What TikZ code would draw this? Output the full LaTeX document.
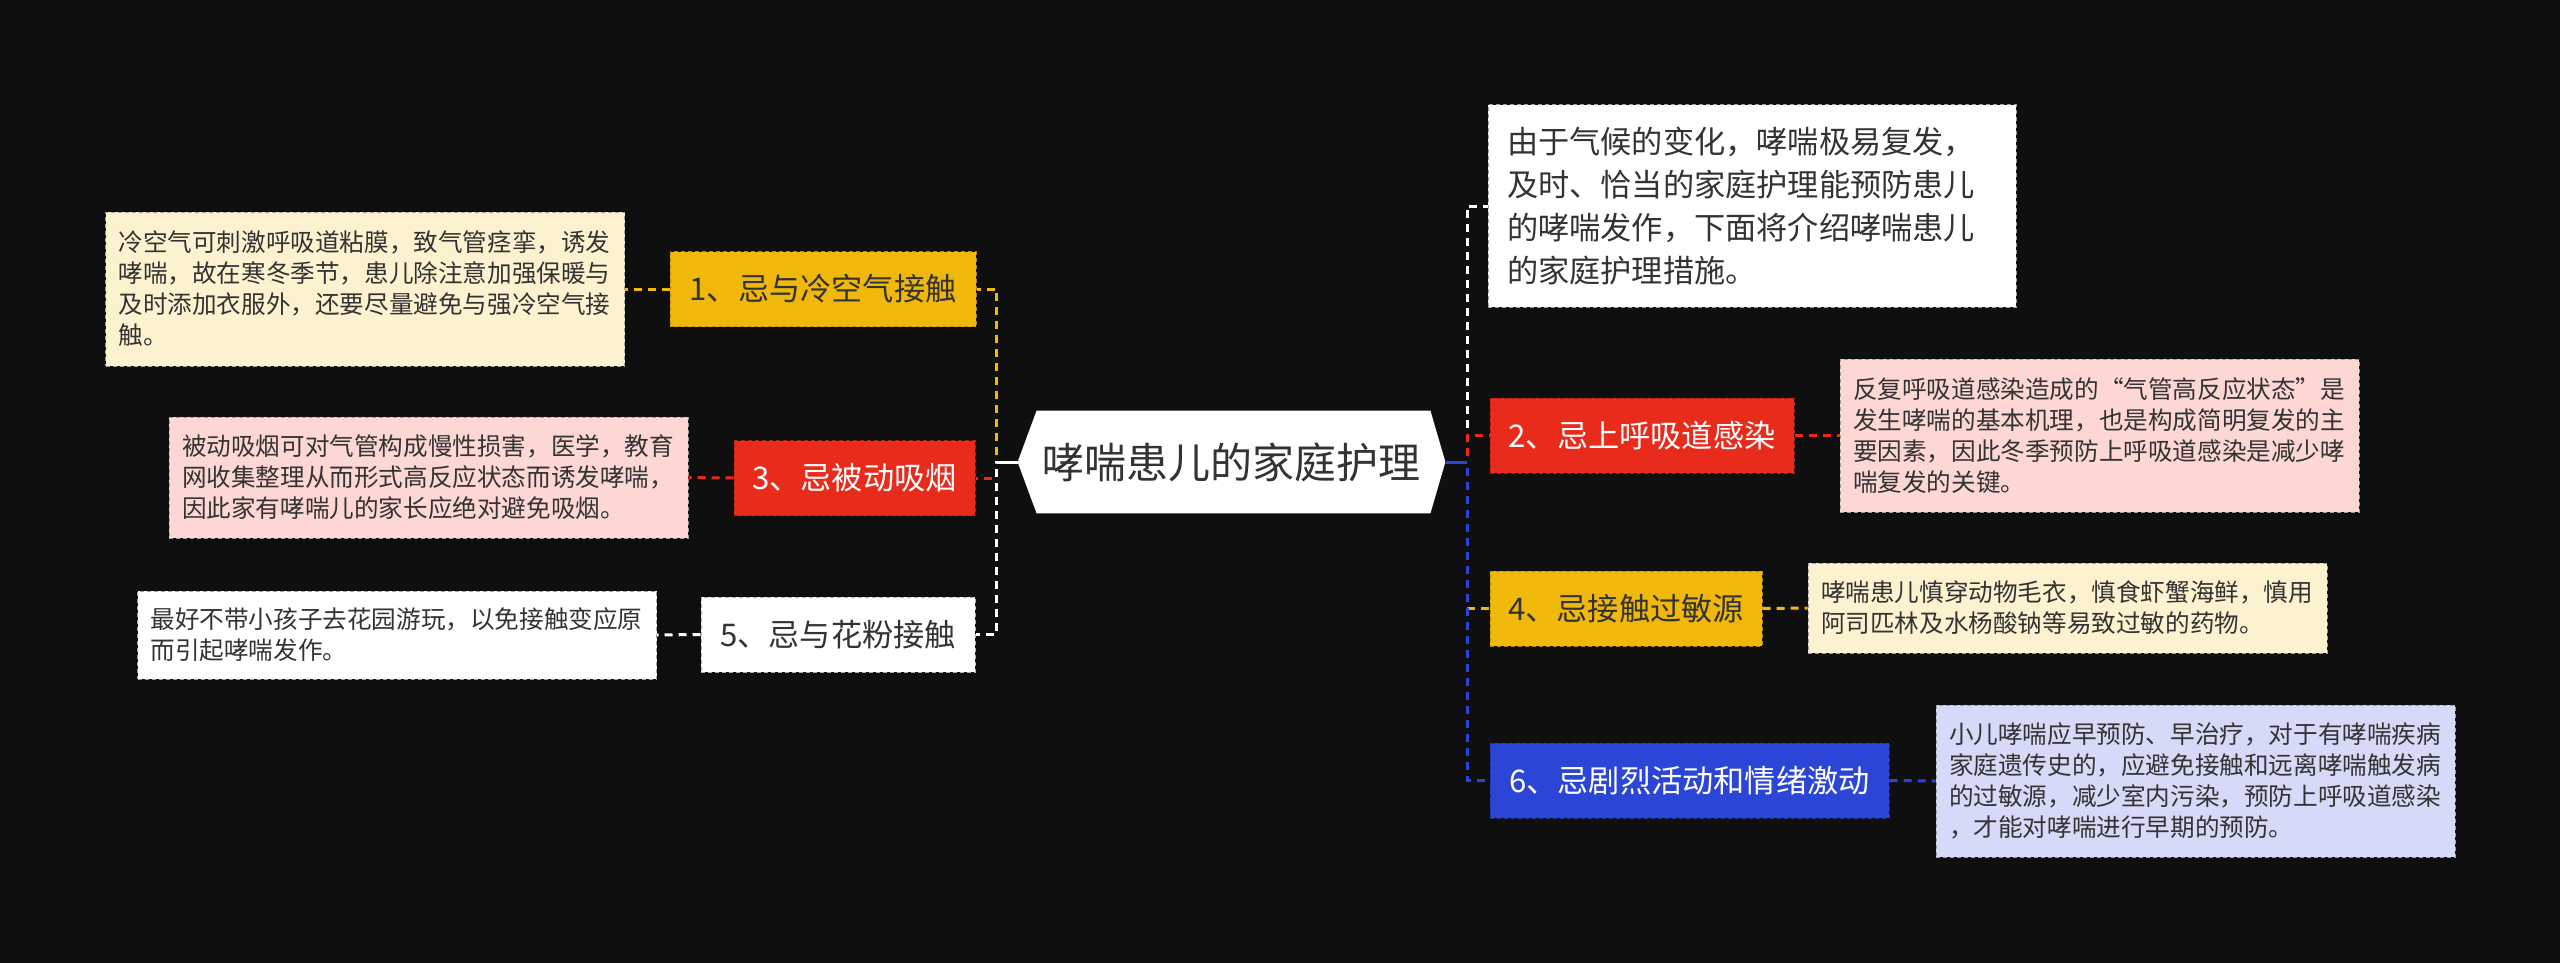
\documentclass[tikz,border=0pt]{standalone}
\usepackage{fontspec}
\setmainfont{Noto Sans CJK SC}
\pgfdeclarelayer{bg}
\pgfsetlayers{bg,main}
\definecolor{bgc}{HTML}{0F0F0F}
\definecolor{yel}{HTML}{F1B80C}
\definecolor{redc}{HTML}{E92B1C}
\definecolor{bluc}{HTML}{2B45D6}
\definecolor{cream}{HTML}{FDF2D0}
\definecolor{pinkc}{HTML}{FDD7D4}
\definecolor{lav}{HTML}{D6D9F7}
\definecolor{txt}{HTML}{333333}
\newcommand{\myopenq}{\makebox[1em][r]{“}}
\newcommand{\mycloseq}{\makebox[1em][l]{”}}
\tikzset{
 box/.style={inner sep=0pt, line width=0.5pt, dash pattern=on 2pt off 1.5pt},
 topic/.style={box, minimum height=37.5pt, font=\fontsize{15.6pt}{18pt}\selectfont},
 detail/.style={box, draw=gray!75, align=left, text=txt, font=\fontsize{12.3pt}{15.5pt}\selectfont, inner xsep=6.5pt, text width=246.5pt},
 link/.style={line width=1.5pt, dash pattern=on 4pt off 3pt},
 stub/.style={line width=1.5pt},
}
\begin{document}
\begin{tikzpicture}[x=0.5pt,y=-0.5pt]
\useasboundingbox (0,0) rectangle (2560,963);
\begin{pgfonlayer}{bg}
\fill[bgc] (0,0) rectangle (2560,963);
\end{pgfonlayer}
% central node
\node[inner sep=0pt, minimum width=213.5pt, minimum height=51pt, text=txt, font=\fontsize{21pt}{24pt}\selectfont] (c) at (1231.5,462) {哮喘患儿的家庭护理};
\begin{pgfonlayer}{bg}
\fill[white] (c.west) -- ([xshift=9.5pt]c.north west) -- ([xshift=-7.5pt]c.north east) -- (c.east) -- ([xshift=-7.5pt]c.south east) -- ([xshift=9.5pt]c.south west) -- cycle;
\end{pgfonlayer}
% left topics
\node[topic, fill=yel, draw=yel!75!black, text=txt, minimum width=153pt] (t1) at (823,289) {1、忌与冷空气接触};
\node[topic, fill=redc, draw=redc!75!black, text=white, minimum width=120.5pt] (t3) at (854.5,478) {3、忌被动吸烟};
\node[topic, fill=white, draw=gray!60, text=txt, minimum width=137pt] (t5) at (838,634.5) {5、忌与花粉接触};
% left details
\node[detail, fill=cream, minimum height=77pt] (d1) at (365,289) {冷空气可刺激呼吸道粘膜，致气管痉挛，诱发\\哮喘，故在寒冬季节，患儿除注意加强保暖与\\及时添加衣服外，还要尽量避免与强冷空气接\\触。};
\node[detail, fill=pinkc, minimum height=60.5pt] (d3) at (428.5,477.5) {被动吸烟可对气管构成慢性损害，医学，教育\\网收集整理从而形式高反应状态而诱发哮喘，\\因此家有哮喘儿的家长应绝对避免吸烟。};
\node[detail, fill=white, minimum height=44pt] (d5) at (397,635) {最好不带小孩子去花园游玩，以免接触变应原\\而引起哮喘发作。};
% right
\node[box, fill=white, draw=gray!75, text=txt, align=left, inner xsep=9.5pt, text width=245pt, minimum height=101pt, font=\fontsize{15.6pt}{21.5pt}\selectfont] (intro) at (1752,206) {由于气候的变化，哮喘极易复发，\\及时、恰当的家庭护理能预防患儿\\的哮喘发作，下面将介绍哮喘患儿\\的家庭护理措施。};
\node[topic, fill=redc, draw=redc!75!black, text=white, minimum width=152pt] (t2) at (1642,435.5) {2、忌上呼吸道感染};
\node[topic, fill=yel, draw=yel!75!black, text=txt, minimum width=136pt] (t4) at (1626,608.5) {4、忌接触过敏源};
\node[topic, fill=bluc, draw=bluc!75!black, text=white, minimum width=199.5pt] (t6) at (1689.5,780.5) {6、忌剧烈活动和情绪激动};
\node[detail, fill=pinkc, minimum height=76.5pt] (d2) at (2099.5,435.5) {反复呼吸道感染造成的\myopenq 气管高反应状态\mycloseq 是\\发生哮喘的基本机理，也是构成简明复发的主\\要因素，因此冬季预防上呼吸道感染是减少哮\\喘复发的关键。};
\node[detail, fill=cream, minimum height=45pt] (d4) at (2067.5,608) {哮喘患儿慎穿动物毛衣，慎食虾蟹海鲜，慎用\\阿司匹林及水杨酸钠等易致过敏的药物。};
\node[detail, fill=lav, minimum height=76pt] (d6) at (2195.5,781) {小儿哮喘应早预防、早治疗，对于有哮喘疾病\\家庭遗传史的，应避免接触和远离哮喘触发病\\的过敏源，减少室内污染，预防上呼吸道感染\\，才能对哮喘进行早期的预防。};
% connectors left
\draw[link, yel] (c.west) -- ++(-21,0) |- (t1.east);
\draw[link, redc] (c.west) -- ++(-21,0) |- (t3.east);
\draw[link, white] (c.west) -- ++(-21,0) |- (t5.east);
\draw[stub, white] (c.west) -- ++(-21,0);
\draw[link, yel] (t1.west) -- (d1.east);
\draw[link, redc] (t3.west) -- (d3.east);
\draw[link, white] (t5.west) -- (d5.east);
% connectors right
\draw[link, white] (c.east) -- ++(22,0) |- (intro.west);
\draw[link, redc] (c.east) -- ++(22,0) |- (t2.west);
\draw[link, yel] (c.east) -- ++(22,0) |- (t4.west);
\draw[link, bluc] (c.east) -- ++(22,0) |- (t6.west);
\draw[stub, bluc] (c.east) -- ++(22,0);
\draw[link, redc] (t2.east) -- (d2.west);
\draw[link, yel] (t4.east) -- (d4.west);
\draw[link, bluc] (t6.east) -- (d6.west);
\end{tikzpicture}
\end{document}
